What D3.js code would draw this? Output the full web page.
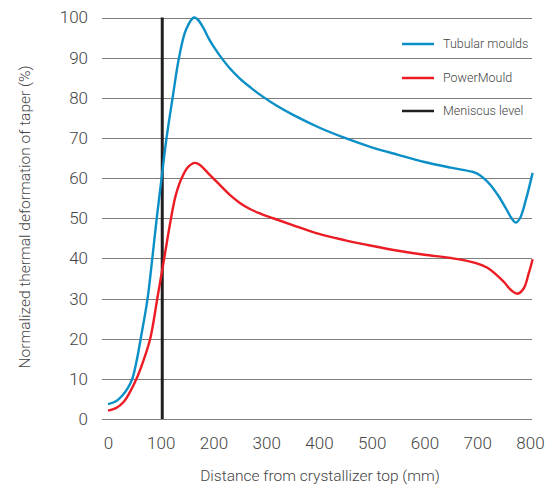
<!DOCTYPE html>
<html>
<head>
<meta charset="utf-8">
<script src="https://cdn.jsdelivr.net/npm/d3@7"></script>
<style>
  html, body { margin: 0; padding: 0; background: #fff; }
  svg { display: block; }
  text { font-family: "Roboto", "Liberation Sans", sans-serif; font-weight: 300; fill: #444; }
</style>
</head>
<body>
<svg id="chart" width="549" height="487"></svg>
<script>
// ---- data ----
const xTicks = [0, 100, 200, 300, 400, 500, 600, 700, 800];
const yTicks = [0, 10, 20, 30, 40, 50, 60, 70, 80, 90, 100];
const meniscusLevel = 100;

const tubularX = [0, 15, 30, 38, 46, 54, 62, 75, 84, 92.4, 101.6, 111, 122.5, 134.6, 148, 163, 170, 180, 190, 200, 212, 230, 250, 270, 290, 320, 350, 400, 449, 497, 550, 600, 650, 690, 700, 712, 725, 740, 755, 765, 773, 781, 792, 805];
const tubularY = [3.7, 4.4, 6.3, 7.8, 10, 14.3, 20, 30, 40, 50, 60, 70, 80, 90, 97, 100, 99.5, 97.6, 95, 92.8, 90.5, 87.5, 84.8, 82.6, 80.6, 78, 75.8, 72.6, 70, 67.8, 65.8, 64, 62.6, 61.6, 61.1, 60, 58.3, 55.6, 52.3, 50, 48.9, 50, 54.5, 61.3];

const powerX = [0, 15, 30, 42, 54, 67, 80, 93.5, 106.5, 119.5, 128, 139.7, 152, 165, 175, 190, 212, 231, 250, 269, 290, 313, 350, 400, 450, 497, 550, 600, 650, 696, 720, 750, 765, 776, 788, 797, 805];
const powerY = [2.1, 2.7, 4.3, 6.8, 10, 14.5, 20, 30, 40, 50, 55.5, 60, 62.8, 63.8, 63.2, 61.2, 58.3, 55.8, 53.8, 52.3, 51.1, 50, 48.3, 46.1, 44.5, 43.2, 41.9, 40.9, 40.1, 38.9, 37.6, 34.2, 32, 31.2, 32.5, 36, 39.8];

const seriesNames = ["Tubular moulds", "PowerMould", "Meniscus level"];
const seriesColors = ["#0a8fc6", "#ec1c24", "#231f20"];

const xTitle = "Distance from crystallizer top (mm)";
const yTitle = "Normalized thermal deformation of taper (%)";

// ---- chart ----
const svg = d3.select("#chart");
const x = d3.scaleLinear().domain([0, 800]).range([108, 530]);
const y = d3.scaleLinear().domain([0, 100]).range([419, 17.5]);

// gridlines
svg.append("g").selectAll("line").data(yTicks).join("line")
  .attr("x1", x.range()[0] - 6).attr("x2", x.range()[1] + 2)
  .attr("y1", d => Math.round(y(d)) + 0.5).attr("y2", d => Math.round(y(d)) + 0.5)
  .attr("stroke", "#7d7d7d").attr("stroke-width", 1);

// y axis labels
const yAxis = d3.axisLeft(y).tickValues(yTicks).tickSize(0).tickPadding(0);
const gy = svg.append("g").attr("transform", "translate(88,0)").call(yAxis);
gy.select(".domain").remove();
gy.selectAll("text").attr("font-size", 17).attr("fill", "#444")
  .style("font-family", null);

// x axis labels
const xAxis = d3.axisBottom(x).tickValues(xTicks).tickSize(0).tickPadding(0);
const gx = svg.append("g").attr("transform", "translate(0,437)").call(xAxis);
gx.select(".domain").remove();
gx.selectAll("text").attr("font-size", 17).attr("fill", "#444")
  .style("font-family", null);

// axis titles
svg.append("text").attr("x", 320).attr("y", 481).attr("text-anchor", "middle")
  .attr("font-size", 15.5).text(xTitle);
svg.append("text").attr("transform", "translate(30,217) rotate(-90)")
  .attr("text-anchor", "middle").attr("font-size", 15.5).text(yTitle);

// meniscus line
svg.append("line")
  .attr("x1", x(meniscusLevel) + 1.5).attr("x2", x(meniscusLevel) + 1.5)
  .attr("y1", y(100)).attr("y2", y(0))
  .attr("stroke", seriesColors[2]).attr("stroke-width", 3);

// curves
const line = d3.line().x(d => x(d[0])).y(d => y(d[1])).curve(d3.curveCatmullRom.alpha(0.5));
const tubular = tubularX.map((v, i) => [v, tubularY[i]]);
const power = powerX.map((v, i) => [v, powerY[i]]);

svg.append("path").datum(power).attr("d", line)
  .attr("fill", "none").attr("stroke", seriesColors[1]).attr("stroke-width", 2.4);
svg.append("path").datum(tubular).attr("d", line)
  .attr("fill", "none").attr("stroke", seriesColors[0]).attr("stroke-width", 2.4);

// legend
const legendY = [44, 78, 111];
const lg = svg.append("g").selectAll("g").data(seriesNames).join("g")
  .attr("transform", (d, i) => `translate(402,${legendY[i]})`);
lg.append("line").attr("x1", 0).attr("x2", 32).attr("y1", 0).attr("y2", 0)
  .attr("stroke", (d, i) => seriesColors[i]).attr("stroke-width", 2.5);
lg.append("text").attr("x", 41).attr("y", 0).attr("dy", "0.35em")
  .attr("font-size", 12.5).attr("fill", "#555").text(d => d);
</script>
</body>
</html>
